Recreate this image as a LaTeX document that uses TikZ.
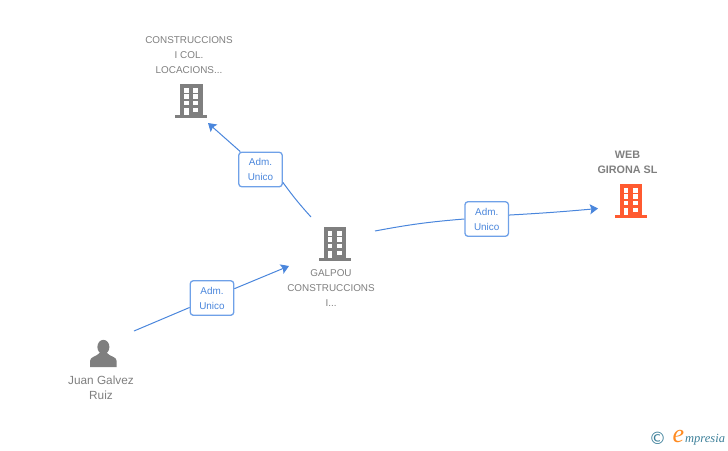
\documentclass[tikz,border=0pt]{standalone}
\usepackage{fontspec}
\setmainfont{Liberation Sans}
\newfontfamily\logofont{Liberation Serif}
\newfontfamily\symbfont{DejaVu Sans}
\usetikzlibrary{arrows.meta}
\definecolor{mgray}{HTML}{7F7F7F}
\definecolor{morange}{HTML}{FF5A30}
\definecolor{mblue}{HTML}{4A86DC}
\definecolor{mborder}{HTML}{6FA1E8}
\definecolor{mteal}{HTML}{3C7F99}
\tikzset{
  company/.style = {text=mgray, align=center, font=\fontsize{9.9}{15}\selectfont},
  role/.style = {draw=mborder, line width=1.3pt, rounded corners=3pt, fill=white,
                 minimum width=43.5pt, minimum height=34.5pt, inner sep=0pt,
                 text=mblue, align=center, font=\fontsize{9.9}{15}\selectfont},
  link/.style = {mblue, line width=1pt, -{Stealth[length=8pt, width=10pt, inset=1.5pt]}},
  pics/building/.style = {code={
    \fill [#1] (-11, -16.7) rectangle (11.5, 14);
    \fill [#1] (-15.7, 14) rectangle (16, 16.7);
    \foreach \y in {-12.7, -6.7, 0} {
      \fill [white] (-7, \y) rectangle (-2.3, \y + 4.4);
      \fill [white] (2.3, \y) rectangle (7.3, \y + 4.4);
    }
    \fill [white] (-7, 6.7) rectangle (-2.3, 14);
    \fill [white] (2.3, 6.7) rectangle (7.3, 11.3);
  }}
}

\begin{document}
\begin{tikzpicture}[x=1pt, y=-1pt]
    \useasboundingbox (0, 0) rectangle (728, 450);

    % icons
    \pic (iconcons) at (191, 101) {building=mgray};
    \pic (icongal) at (334.5, 244) {building=mgray};
    \pic (iconweb) at (630.5, 201) {building=morange};
    \fill [mgray] (90, 367) -- (90, 361) .. controls (90, 356.5) and (97, 356.5) .. (99.5, 353)
        -- (107, 353) .. controls (109.5, 356.5) and (116.7, 356.5) .. (116.7, 361) -- (116.7, 367) -- cycle;
    \fill [mgray] (103.4, 347) ellipse (6 and 7.2);

    % names
    \node [company] (cons) at (189, 55) {CONSTRUCCIONS\\I COL.\\LOCACIONS...};
    \node [company] (gal) at (331, 288) {GALPOU\\CONSTRUCCIONS\\I...};
    \node [company, font=\fontsize{10.8}{15}\selectfont\bfseries] (web) at (627.5, 162) {WEB\\GIRONA SL};
    \node [company, font=\fontsize{11.8}{15}\selectfont] (juan) at (101, 388) {Juan Galvez\\Ruiz};

    % role boxes
    \node [role] (rolecons) at (260.5, 169.5) {Adm.\\Unico};
    \node [role] (rolegal) at (212, 298) {Adm.\\Unico};
    \node [role] (roleweb) at (486.7, 219) {Adm.\\Unico};

    % free ends
    \coordinate (juanout) at (134, 331);
    \coordinate (galin) at (289, 266);
    \coordinate (galup) at (311, 217);
    \coordinate (consin) at (208, 123);
    \coordinate (galright) at (375, 231);
    \coordinate (webin) at (598, 208.5);

    % connectors
    \draw [mblue, line width=1pt] (juanout) -- (rolegal);
    \draw [link] (rolegal) -- (galin);
    \draw [mblue, line width=1pt] (galup) to [bend left=3] (rolecons.-30);
    \draw [link] (rolecons) -- (consin);
    \draw [mblue, line width=1pt] (galright) to [bend left=3] (roleweb.west);
    \draw [link] (roleweb.10) to [bend right=1] (webin);

    % logo
    \node [text=mteal, font=\symbfont\fontsize{17}{17}\selectfont, inner sep=0pt] (copy) at (657.5, 438.5) {©};
    \node [text=morange!70!yellow, font=\logofont\itshape\fontsize{26}{26}\selectfont, inner sep=0pt] (logoe) at (678.5, 436) {e};
    \node [text=mteal, font=\logofont\itshape\fontsize{12.5}{12.5}\selectfont, inner sep=0pt, anchor=base west] (logotext) at (685, 442) {mpresia};
  \end{tikzpicture}
\end{document}
